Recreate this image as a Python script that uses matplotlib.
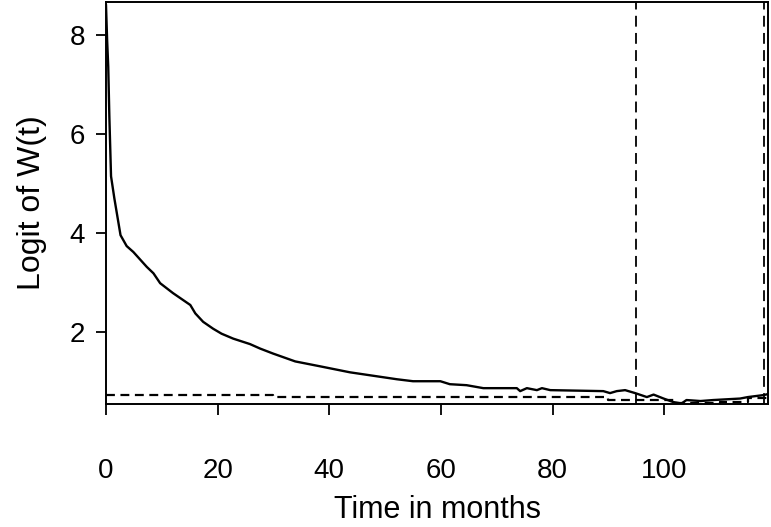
import matplotlib
matplotlib.use("Agg")
import matplotlib.pyplot as plt

# logit of W(t) over time
months = [0, 0.2, 0.4, 0.6, 0.9, 1.5, 2.6, 3.7, 4.9, 7.3, 8.5, 9.7, 12.0, 15.1,
          16.0, 17.4, 19.2, 20.7, 22.8, 25.8, 27.6, 29.9, 33.9, 38.4, 43.7, 47.3,
          52.1, 55.0, 59.9, 61.6, 64.6, 67.6, 73.6, 74.2, 75.4, 77.2, 78.1, 79.6,
          89.1, 90.3, 91.5, 93.0, 94.8, 96.9, 98.1, 99.9, 101.6, 103.1, 104.0,
          106.5, 108.8, 113.6, 115.0, 117.8, 118.6]
logit_w = [8.6, 7.9, 7.36, 6.35, 5.15, 4.7, 3.96, 3.74, 3.62, 3.32, 3.19, 2.99,
           2.79, 2.55, 2.38, 2.21, 2.07, 1.97, 1.87, 1.76, 1.67, 1.57, 1.41, 1.31,
           1.19, 1.13, 1.05, 1.01, 1.01, 0.95, 0.93, 0.87, 0.87, 0.81, 0.87, 0.83,
           0.87, 0.83, 0.81, 0.77, 0.81, 0.83, 0.77, 0.69, 0.74, 0.66, 0.59, 0.56,
           0.63, 0.61, 0.63, 0.66, 0.69, 0.73, 0.75]

# dashed lower bound (step function)
bound_t = [0, 30, 90, 95, 102, 110, 115, 118.6]
bound_y = [0.73, 0.69, 0.64, 0.64, 0.58, 0.60, 0.67, 0.67]

# vertical dashed markers
vlines_t = [95, 117.9]

xticks = [0, 20, 40, 60, 80, 100]
yticks = [2, 4, 6, 8]

font = ["Liberation Sans", "DejaVu Sans"]

fig = plt.figure(figsize=(7.71, 5.27), dpi=100)
ax = fig.add_axes([0.1375, 0.2334, 0.8586, 0.7628])

ax.plot(months, logit_w, color="black", lw=1.7)
ax.step(bound_t, bound_y, where="post", color="black", lw=1.6,
        linestyle=(0, (4, 2.5)))
for t in vlines_t:
    ax.axvline(t, color="black", lw=1.3, linestyle=(0, (6, 3.5)))

ax.set_xlim(0, 118.6)
ax.set_ylim(0.55, 8.67)
ax.set_xticks(xticks)
ax.set_yticks(yticks)

for s in ax.spines.values():
    s.set_linewidth(1.4)

ax.tick_params(axis="x", direction="out", length=8, width=1.3, pad=31)
ax.tick_params(axis="y", direction="out", length=7, width=1.3, pad=8)
for lab in ax.get_xticklabels() + ax.get_yticklabels():
    lab.set_fontfamily(font)
    lab.set_fontsize(20)

ax.set_xlabel("Time in months", fontsize=22, family=font, labelpad=8)
ax.set_ylabel("Logit of W(t)", fontsize=23, family=font, labelpad=16)

fig.savefig("out.png", dpi=100)
